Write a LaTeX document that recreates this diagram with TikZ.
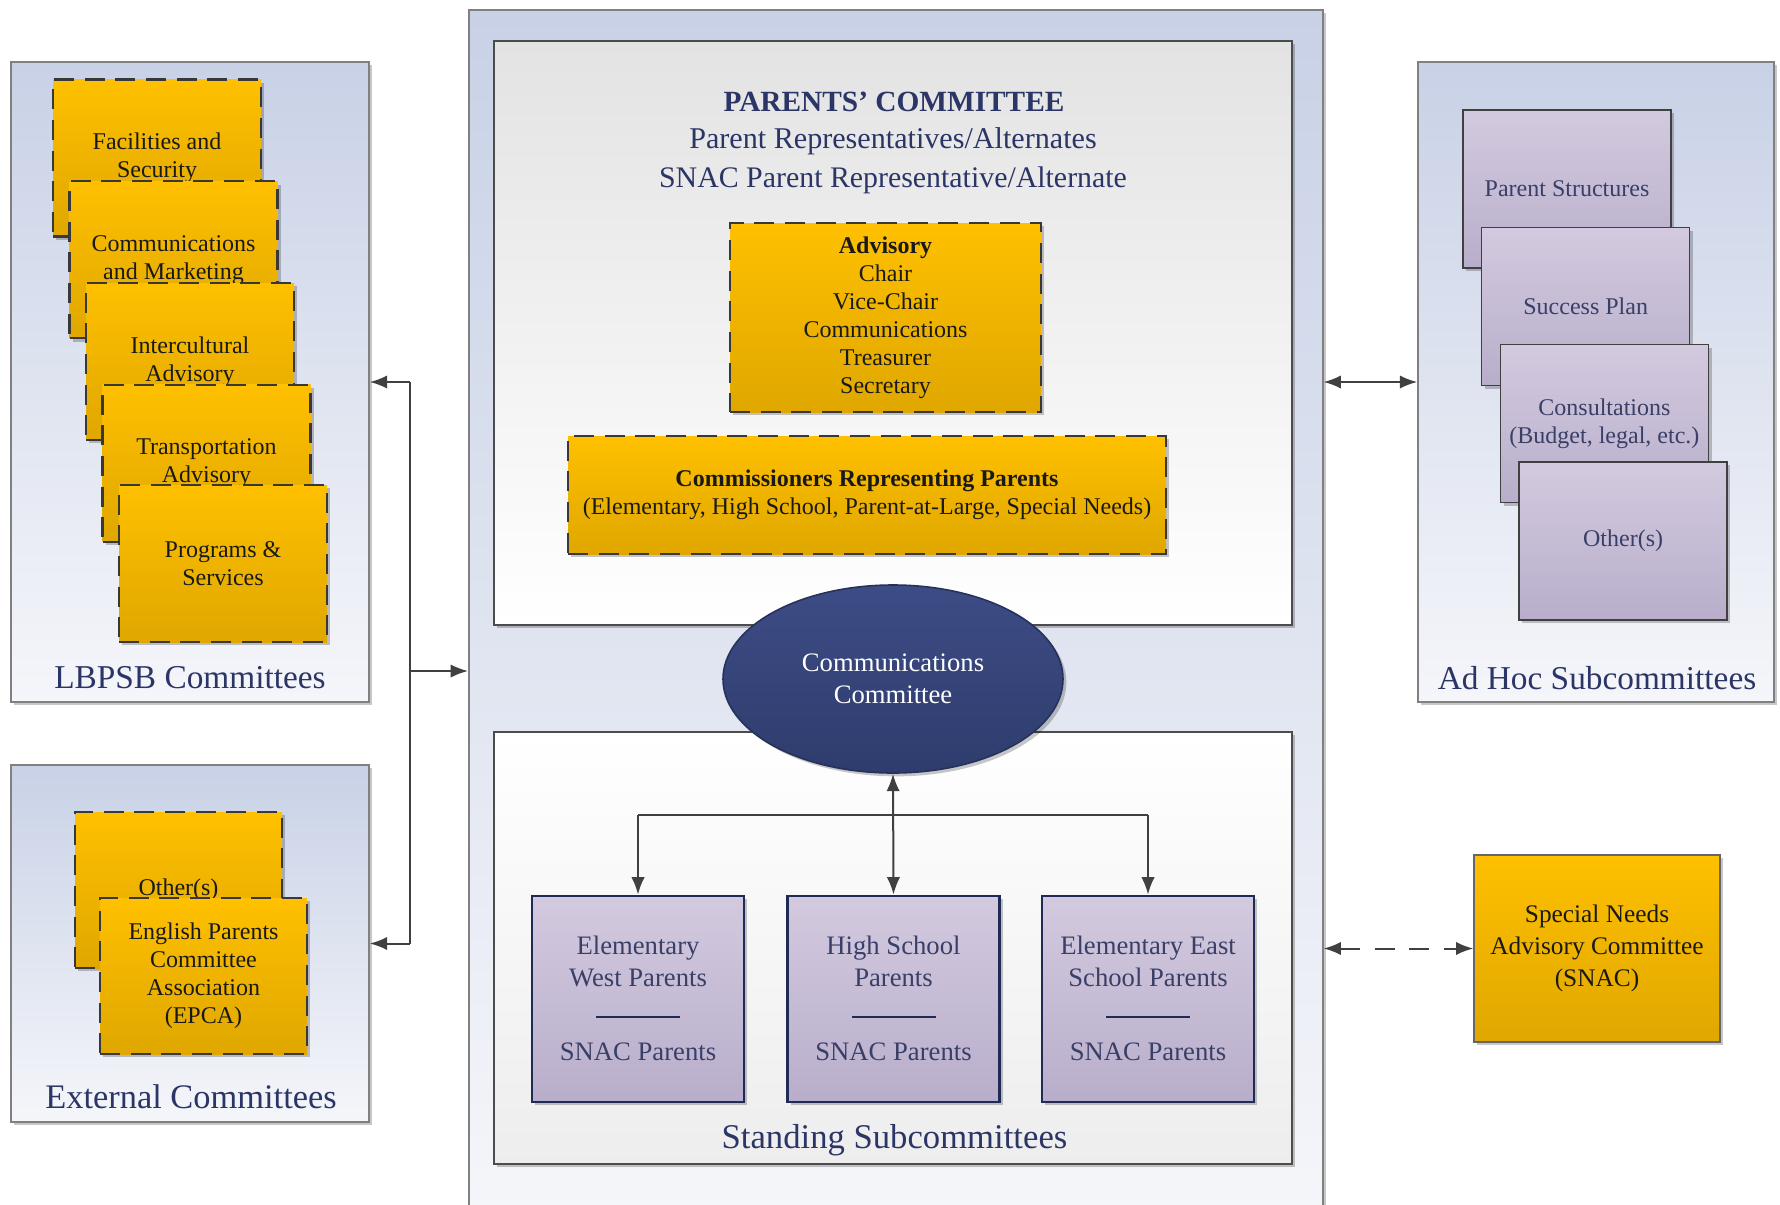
\documentclass[tikz,border=0pt]{standalone}
\usepackage{fontspec}
\setmainfont{Liberation Serif}
\usetikzlibrary{shapes.geometric,shadows,arrows.meta,calc}
\definecolor{panTop}{HTML}{C8D1E6}
\definecolor{panBot}{HTML}{F5F6FA}
\definecolor{panLine}{HTML}{808080}
\definecolor{yelTop}{HTML}{FFC000}
\definecolor{yelBot}{HTML}{DFA700}
\definecolor{purTop}{HTML}{D3CADF}
\definecolor{purBot}{HTML}{B8AECB}
\definecolor{navy}{HTML}{2B3566}
\definecolor{slate}{HTML}{3A3F68}
\definecolor{ellTop}{HTML}{3D4C85}
\definecolor{ellBot}{HTML}{2E3C6D}
\definecolor{ellLine}{HTML}{27325C}
\definecolor{standLine}{HTML}{1F2A55}
\definecolor{arrowCol}{HTML}{404040}
\begin{document}
\begin{tikzpicture}[x=0.75pt,y=-0.75pt,
  shade/.style={drop shadow={shadow xshift=2.5pt,shadow yshift=-2.5pt,opacity=.22,fill=black}},
  panel/.style={shade,draw=panLine,line width=1.2pt,top color=panTop,bottom color=panBot,inner sep=0pt},
  panlabel/.style={text=navy,font=\fontsize{25}{28}\selectfont},
  ybox/.style={shade,draw=black!78,line width=1.7pt,dash pattern=on 15pt off 8pt,
    top color=yelTop,bottom color=yelBot,align=center,text=black!90,
    font=\fontsize{18}{21}\selectfont,inner sep=2pt},
  lbox/.style={ybox,minimum width=156pt,minimum height=117.75pt},
  pbox/.style={shade,draw=black!75,line width=1.1pt,top color=purTop,bottom color=purBot,
    align=center,text=slate,font=\fontsize{18}{21}\selectfont,
    minimum width=156pt,minimum height=118.5pt,inner sep=2pt},
  stand/.style={shade,draw=standLine,line width=2.2pt,top color=purTop,bottom color=purBot,
    minimum width=159pt,minimum height=154.5pt,inner sep=0pt},
  standtxt/.style={text=slate,align=center,font=\fontsize{20}{24}\selectfont},
  conn/.style={draw=arrowCol,line width=1.5pt},
  tip/.style={-{Latex[length=13pt,width=10pt]}},
  tips/.style={{Latex[length=13pt,width=10pt]}-{Latex[length=13pt,width=10pt]}}
]
\useasboundingbox (0,0) rectangle (1780,1204);
\fill[white] (0,0) rectangle (1780,1204);

% ---------- left panels ----------
\node[panel,minimum width=268.5pt,minimum height=480pt] (lbpsb) at (190,382) {};
\node[panel,minimum width=268.5pt,minimum height=267.75pt] (ext) at (190,943.5) {};

\node[lbox] (fac) at (157,158) {Facilities and\\Security};
\node[lbox] (com) at (173.5,259.8) {Communications\\and Marketing};
\node[lbox] (int) at (190,361.6) {Intercultural\\Advisory};
\node[lbox] (tra) at (206.5,463.4) {Transportation\\Advisory};
\node[lbox] (pro) at (223,563.5) {Programs \&\\Services};
\node[panlabel] (lbpsbL) at (190,678) {LBPSB Committees};

\node[ybox,minimum width=155.25pt,minimum height=117pt] (oth) at (178.5,890) {Other(s)};
\node[ybox,minimum width=155.25pt,minimum height=117pt] (epca) at (203.5,976) {English Parents\\Committee\\Association\\(EPCA)};
\node[panlabel,font=\fontsize{25.8}{28}\selectfont] (extL) at (191,1097) {External Committees};

% ---------- central panel ----------
\node[panel,minimum width=640.5pt,minimum height=905pt,anchor=north west] (ctr) at (468,9) {};
\node[shade,draw=black!70,line width=1.1pt,top color=black!11,bottom color=white,
  minimum width=598.5pt,minimum height=438pt,inner sep=0pt] (pc) at (893,333) {};
\node[shade,draw=black!70,line width=1.1pt,top color=white,bottom color=black!7,
  minimum width=598.5pt,minimum height=324pt,inner sep=0pt] (sc) at (893,948) {};

\node[text=navy,font=\bfseries\fontsize{22}{26}\selectfont] (pcT) at (894,102) {PARENTS’ COMMITTEE};
\node[text=navy,font=\fontsize{22.6}{26}\selectfont] (pcA) at (893,141) {Parent Representatives/Alternates};
\node[text=navy,font=\fontsize{22.4}{26}\selectfont] (pcB) at (893,180) {SNAC Parent Representative/Alternate};

\node[ybox,minimum width=233.25pt,minimum height=141.75pt] (adv) at (885.5,317.5)
  {\textbf{Advisory}\\Chair\\Vice-Chair\\Communications\\Treasurer\\Secretary};
\node[ybox,minimum width=448.5pt,minimum height=88.5pt] (cmr) at (867,495)
  {\textbf{Commissioners Representing Parents}\\(Elementary, High School, Parent-at-Large, Special Needs)};

\node[stand] (ew) at (638,999) {};
\node[stand] (hs) at (893.5,999) {};
\node[stand] (ee) at (1148,999) {};
\foreach \b/\t in {ew/{Elementary\\West Parents},hs/{High School\\Parents},ee/{Elementary East\\School Parents}}{
  \node[standtxt] (\b T) at ($(\b.center)+(0,-38)$) {\t};
  \draw[standLine,line width=1.1pt] ($(\b.center)+(-42,18)$) -- ($(\b.center)+(42,18)$);
  \node[standtxt] (\b S) at ($(\b.center)+(0,53)$) {SNAC Parents};
}
\node[text=navy,font=\fontsize{26}{28}\selectfont] (scL) at (894.5,1140) {Standing Subcommittees};

\node[ellipse,shade,draw=ellLine,line width=1.2pt,top color=ellTop,bottom color=ellBot,
  minimum width=255pt,minimum height=141pt,align=center,text=white,
  font=\fontsize{20}{24}\selectfont] (cc) at (893,679) {Communications\\Committee};

% ---------- right panels ----------
\node[panel,minimum width=267pt,minimum height=480pt] (adhoc) at (1596,382) {};
\node[pbox] (ps) at (1567,189) {Parent Structures};
\node[pbox] (sp) at (1585.7,306.3) {Success Plan};
\node[pbox] (cons) at (1604.4,423.6) {Consultations\\(Budget, legal, etc.)};
\node[pbox] (ao) at (1623.1,540.9) {Other(s)};
\node[panlabel] (adhocL) at (1597,678) {Ad Hoc Subcommittees};

\node[shade,draw=black!60,line width=1pt,top color=yelTop,bottom color=yelBot,
  minimum width=184.5pt,minimum height=140.25pt,align=center,text=black!90,
  font=\fontsize{19}{24}\selectfont] (snac) at (1597,948.5)
  {Special Needs\\Advisory Committee\\(SNAC)};

% ---------- connectors ----------
\coordinate (jx) at (410,671);
\draw[conn] (lbpsb.east -| jx) -- (ext.east -| jx);
\draw[conn,tip] (lbpsb.east -| jx) -- (lbpsb.east);
\draw[conn,tip] (ext.east -| jx) -- (ext.east);
\draw[conn,tip] (jx) -- (jx -| ctr.west);

\draw[conn,tips] (adhoc.west -| ctr.east) -- (adhoc.west);
\draw[conn,tips,dash pattern=on 15pt off 11pt] (snac.west -| ctr.east) -- (snac.west);

\coordinate (hbar) at (893,815);
\draw[conn,tips] (cc.south) -- (hs.north);
\draw[conn] (ew.north |- hbar) -- (ee.north |- hbar);
\draw[conn,tip] (ew.north |- hbar) -- (ew.north);
\draw[conn,tip] (ee.north |- hbar) -- (ee.north);
\end{tikzpicture}
\end{document}
